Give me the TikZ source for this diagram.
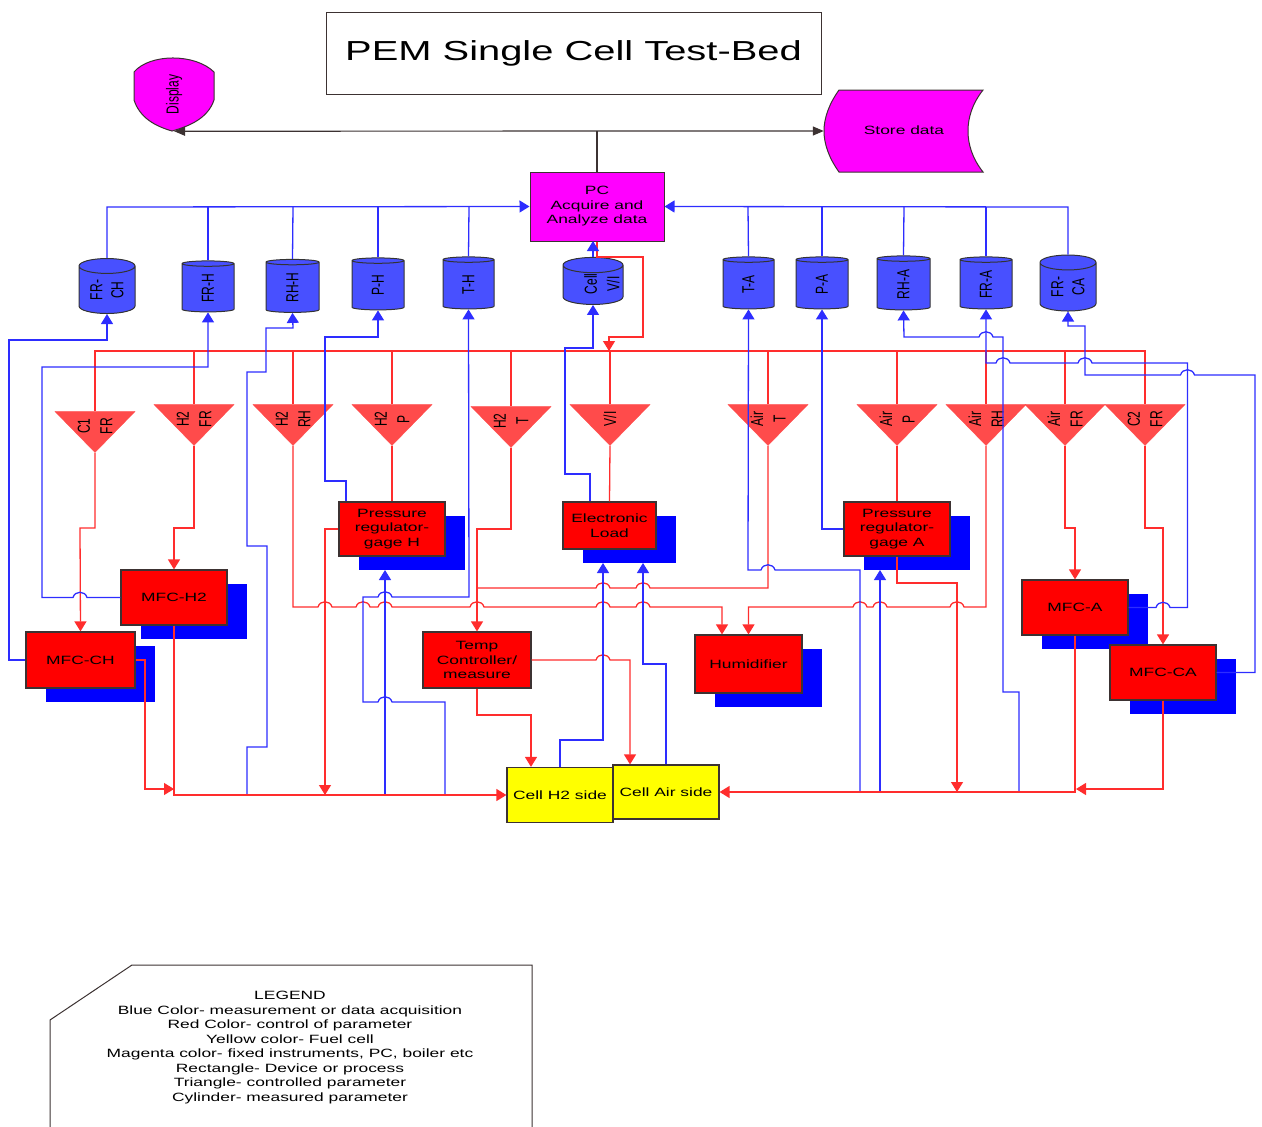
\documentclass[tikz,border=0pt]{standalone}
\usepackage{fontspec}
\setmainfont{Liberation Sans}[FakeStretch=1.45]
\newfontfamily\rotfont{Liberation Sans}[FakeStretch=0.69]
\usepackage{xcolor}
\usetikzlibrary{arrows.meta,shapes.geometric,shadows}
\definecolor{cylblue}{RGB}{72,80,255}
\definecolor{trired}{RGB}{255,75,75}
\definecolor{lineblue}{RGB}{45,45,255}
\definecolor{linered}{RGB}{255,45,45}
\definecolor{edgegray}{RGB}{60,50,50}
\definecolor{fullmag}{RGB}{255,0,255}
\definecolor{fullyel}{RGB}{255,255,0}
\newcommand{\hopr}[2]{-- (#1-7,#2) .. controls (#1-5,#2-7) and (#1+5,#2-7) .. (#1+7,#2)}
\newcommand{\hopl}[2]{-- (#1+7,#2) .. controls (#1+5,#2-7) and (#1-5,#2-7) .. (#1-7,#2)}

\begin{document}
\begin{tikzpicture}[
  x=1pt,y=-1pt,
  font=\fontsize{12}{14.5}\selectfont,
  sz/.style 2 args={minimum width=#1pt,minimum height=#2pt},
  dev/.style={draw=edgegray,fill=red,line width=1.2pt,inner sep=0pt,align=center},
  shad/.style={drop shadow={shadow xshift=20pt,shadow yshift=-14pt,fill=blue,opacity=1}},
  mag/.style={draw=edgegray,fill=fullmag,line width=1pt},
  fuel/.style={draw=edgegray,fill=fullyel,line width=1.2pt,inner sep=0pt,align=center},
  cyl/.style={cylinder,rotate=90,aspect=0.45,draw=black!80,fill=cylblue,line width=1pt,inner sep=0pt,align=center,
    font=\fontsize{17.4}{21}\selectfont\rotfont},
  tri/.style={isosceles triangle,isosceles triangle stretches,shape border rotate=180,rotate=90,anchor=apex,
    minimum width=80pt,minimum height=41pt,inner sep=0pt,draw=trired,fill=trired},
  trilab/.style={rotate=90,inner sep=0pt,align=center,font=\fontsize{17.4}{22.5}\selectfont\rotfont},
  blu/.style={draw=lineblue,line width=1.3pt},
  rd/.style={draw=linered,line width=1.3pt},
  >={Triangle[length=10pt,width=12pt]}]
  \useasboundingbox (0,0) rectangle (1262,1127);
  % title and fixed instruments
  \node[draw=edgegray,line width=1pt,sz={495}{82},font=\fontsize{27.5}{30}\selectfont] (title) at (573.5,53) {PEM Single Cell Test-Bed};
  \draw[mag] (134,72) .. controls (150,53.3) and (195,53.3) .. (214,72) -- (214,100)
    .. controls (208,118) and (190,126) .. (172,131) .. controls (155,126) and (140,118) .. (134,100) -- cycle;
  \node[rotate=90,sz={73}{80},inner sep=0pt,font=\fontsize{17.4}{21}\selectfont\rotfont] (disp) at (174,94.5) {Display};
  \draw[mag] (839,90) -- (983,90) .. controls (972,104) and (968,118) .. (968,131)
    .. controls (968,144) and (972,158) .. (983,172) -- (839,172)
    .. controls (829,158) and (824,144) .. (824,131) .. controls (824,118) and (829,104) .. (839,90) -- cycle;
  \node[sz={160}{82},inner sep=0pt] (store) at (904,130) {Store data};
  \node[mag,sz={134}{69},inner sep=0pt,align=center] (pc) at (597,206.5) {PC\\Acquire and\\Analyze data};
  % measured parameters
  \node[cyl,sz={56}{55}] (frch) at (107,290) {FR-\\CH};
  \node[cyl,sz={52}{51}] (frh) at (208,288) {FR-H};
  \node[cyl,sz={53}{53}] (rhh) at (292.5,287.5) {RH-H};
  \node[cyl,sz={52}{52}] (ph) at (378,285.5) {P-H};
  \node[cyl,sz={51}{52}] (th) at (468.5,284.5) {T-H};
  \node[cyl,sz={60}{47}] (cellvi) at (593,285) {\phantom{Cell}\\\phantom{V/I}};
  \node[trilab] (cellvit) at (602,284) {Cell\\V/I};
  \node[cyl,sz={51}{52}] (ta) at (748.5,284.5) {T-A};
  \node[cyl,sz={52}{52}] (pa) at (822,284.5) {P-A};
  \node[cyl,sz={53}{54}] (rha) at (903.5,284.5) {RH-A};
  \node[cyl,sz={52}{52}] (fra) at (986,284.5) {FR-A};
  \node[cyl,sz={56}{56}] (frca) at (1068,287) {FR-\\CA};
  % controlled parameters
  \node[tri] (c1fr) at (95,453) {};
  \node[tri] (h2fr) at (194,446) {};
  \node[tri] (h2rh) at (293,446) {};
  \node[tri] (h2p) at (392,446) {};
  \node[tri] (h2t) at (511,448) {};
  \node[tri] (vi) at (610,446) {};
  \node[tri] (airt) at (768,446) {};
  \node[tri] (airp) at (897,446) {};
  \node[tri] (airrh) at (986,446) {};
  \node[tri] (airfr) at (1065,446) {};
  \node[tri] (c2fr) at (1145,446) {};
  \node[trilab] (c1frt) at ([yshift=27pt]c1fr.apex) {C1\\FR};
  \node[trilab] (h2frt) at ([yshift=27pt]h2fr.apex) {H2\\FR};
  \node[trilab] (h2rht) at ([yshift=27pt]h2rh.apex) {H2\\RH};
  \node[trilab] (h2pt) at ([yshift=27pt]h2p.apex) {H2\\P};
  \node[trilab] (h2tt) at ([yshift=27pt]h2t.apex) {H2\\T};
  \node[trilab] (vit) at ([yshift=27pt]vi.apex) {V/I};
  \node[trilab] (airtt) at ([yshift=27pt]airt.apex) {Air\\T};
  \node[trilab] (airpt) at ([yshift=27pt]airp.apex) {Air\\P};
  \node[trilab] (airrht) at ([yshift=27pt]airrh.apex) {Air\\RH};
  \node[trilab] (airfrt) at ([yshift=27pt]airfr.apex) {Air\\FR};
  \node[trilab] (c2frt) at ([yshift=27pt]c2fr.apex) {C2\\FR};
  % devices
  \node[dev,shad,sz={109}{56}] (mfcch) at (80.5,660) {MFC-CH};
  \node[dev,shad,sz={106}{55}] (mfch2) at (174,597.5) {MFC-H2};
  \node[dev,shad,sz={106}{54}] (preh) at (392,529) {Pressure\\regulator-\\gage H};
  \node[dev,shad,sz={93}{47}] (eload) at (609.5,525.5) {Electronic\\Load};
  \node[dev,shad,sz={106}{54}] (prea) at (897,529) {Pressure\\regulator-\\gage A};
  \node[dev,sz={108}{56}] (temp) at (477,660) {Temp\\Controller/\\measure};
  \node[dev,shad,sz={107}{58}] (humid) at (748.5,664) {Humidifier};
  \node[dev,shad,sz={106}{55}] (mfca) at (1075,607.5) {MFC-A};
  \node[dev,shad,sz={106}{55}] (mfcca) at (1163,672.5) {MFC-CA};
  \node[fuel,sz={106}{55}] (cellh) at (560,795) {Cell H2 side};
  \node[fuel,sz={106}{54}] (cella) at (666,792) {Cell Air side};
  % free ends of the connectors
  \coordinate (vitap) at (609,351);
  \coordinate (tjoin) at (477,588);
  \coordinate (hjoin) at (174,789);
  \coordinate (phin) at (325,795);
  \coordinate (tprh) at (228,795);
  \coordinate (tph) at (385,795);
  \coordinate (tth) at (445,795);
  \coordinate (prehin) at (385,570);
  \coordinate (elin) at (603,563);
  \coordinate (elout) at (643,563);
  \coordinate (tta) at (860,792);
  \coordinate (tpa) at (880,792);
  \coordinate (prain) at (880,570);
  \coordinate (praout) at (957,792);
  \coordinate (trha) at (1019,792);
  \coordinate (cajoin) at (1076,789);
  % black data lines
  \draw[<->,draw=edgegray,line width=1.2pt,>={Triangle[length=11pt,width=9pt]}] (disp.west) -- (store.west |- 0,131);
  \draw[draw=edgegray,line width=2.4pt] (pc.north) -- (597,131);
  % red control lines, upper part
  \draw[rd] (c1fr.lower side) -- (95,351) -- (1145,351) -- (c2fr.lower side);
  \draw[rd] (h2fr.lower side) -- (194,351);
  \draw[rd] (h2rh.lower side) -- (293,351);
  \draw[rd] (h2p.lower side) -- (392,351);
  \draw[rd] (h2t.lower side) -- (511,351);
  \draw[rd] (vi.lower side) -- (610,351);
  \draw[rd] (airt.lower side) -- (768,351);
  \draw[rd] (airp.lower side) -- (897,351);
  \draw[rd] (airrh.lower side) -- (986,351);
  \draw[rd] (airfr.lower side) -- (1065,351);
  \draw[rd,->] (pc.south) -- (597,257) -- (643,257) -- (643,337) -- (609,337) -- (vitap);
  \draw[rd,->] (c1fr.apex) -- (95,528) -- (80,528) -- (mfcch.north);
  \draw[rd,->] (h2fr.apex) -- (194,528) -- (174,528) -- (mfch2.north);
  \draw[rd] (h2p.apex) -- (preh.north);
  \draw[rd,->] (h2t.apex) -- (511,529) -- (477,529) -- (temp.north);
  \draw[rd] (vi.apex) -- (eload.north);
  \draw[rd] (airt.apex) -- (768,588) \hopl{643}{588} \hopl{603}{588} -- (tjoin);
  \draw[rd] (airp.apex) -- (prea.north);
  \draw[rd,->] (airfr.apex) -- (1065,528) -- (1075,528) -- (mfca.north);
  \draw[rd,->] (c2fr.apex) -- (1145,528) -- (1163,528) -- (mfcca.north);
  \draw[rd,->] (h2rh.apex) -- (293,607) \hopr{325}{607} \hopr{363}{607} \hopr{385}{607} \hopr{477}{607}
    \hopr{603}{607} \hopr{643}{607} -- (722,607) -- ([xshift=-26.5pt]humid.north);
  \draw[rd,->] (airrh.apex) -- (986,607) \hopl{957}{607} \hopl{880}{607} \hopl{860}{607} -- (748.5,607) -- (humid.north);
  \draw[rd,->] (preh.west) -- (325,529) -- (phin);
  \draw[rd,->] (prea.south) -- (897,583) -- (957,583) -- (praout);
  \draw[rd,->] (temp.south) -- (477,715) -- (531,715) -- ([xshift=-29pt]cellh.north);
  \draw[rd,->] (temp.east) \hopr{603}{660} -- (630,660) -- ([xshift=-36pt]cella.north);
  % blue measurement lines
  \draw[blu,->] (frch.top) -- (107,207) -- (pc.west);
  \draw[blu] (frh.top) -- (208,207);
  \draw[blu] (rhh.top) -- (293,207);
  \draw[blu] (ph.top) -- (378,207);
  \draw[blu] (th.top) -- (469,207);
  \draw[blu,->] (frca.top) -- (1068,207) -- (pc.east);
  \draw[blu] (ta.top) -- (748,207);
  \draw[blu] (pa.top) -- (822,207);
  \draw[blu] (rha.top) -- (904,207);
  \draw[blu] (fra.top) -- (986,207);
  \draw[blu,->] (cellvi.top) -- (593,241);
  \draw[blu,->] (mfcch.west) -- (9,660) -- (9,340) -- (107,340) -- (frch.bottom);
  \draw[blu,->] (mfch2.west) \hopl{80}{597.5} -- (42,597.5) -- (42,367) -- (208,367) -- (frh.bottom);
  \draw[blu,->] (tprh) -- (247,795) -- (247,747) -- (267,747) -- (267,546) -- (247,546) -- (247,372)
    -- (266,372) -- (266,328) -- (293,328) -- (rhh.bottom);
  \draw[blu,->] ([xshift=-46pt]preh.north) -- (346,481) -- (325,481) -- (325,337) -- (378,337) -- (ph.bottom);
  \draw[blu,->] (tth) -- (445,702) \hopl{385}{702} -- (363,702) -- (363,597) \hopr{385}{597} -- (469,597) -- (th.bottom);
  \draw[blu,->] (tph) -- (prehin);
  \draw[blu,->] ([xshift=-19.5pt]eload.north) -- (590,474) -- (565,474) -- (565,348) -- (593,348) -- (cellvi.bottom);
  \draw[blu,->] (cellh.north) -- (560,740) -- (603,740) -- (elin);
  \draw[blu,->] (cella.north) -- (666,664) -- (643,664) -- (elout);
  \draw[blu,->] (tta) -- (860,570) \hopl{768}{570} -- (748,570) -- (ta.bottom);
  \draw[blu,->] (prea.west) -- (822,529) -- (pa.bottom);
  \draw[blu,->] (tpa) -- (prain);
  \draw[blu,->] (trha) -- (1019,692) -- (1003,692) -- (1003,337) \hopl{986}{337} -- (904,337) -- (rha.bottom);
  \draw[blu,->] (mfca.east) \hopr{1163}{607.5} -- (1187.5,607.5) -- (1187.5,363) \hopl{1085}{363} \hopl{1003}{363}
    -- (986,363) -- (fra.bottom);
  \draw[blu,->] (mfcca.east) -- (1255,672.5) -- (1255,375) \hopl{1187.5}{375} -- (1085,375) -- (1085,326)
    -- (1068,326) -- (frca.bottom);
  % red feed lines into the cell
  \draw[rd,->] (mfcch.east) -- (145,660) -- (145,789) -- (hjoin);
  \draw[rd,->] (mfch2.south) -- (174,795) -- (cellh.west);
  \draw[rd,->] (mfca.south) -- (1075,792) -- (cella.east);
  \draw[rd,->] (mfcca.south) -- (1163,789) -- (cajoin);
  % legend
  \draw[draw=edgegray,line width=1pt] (50,1127) -- (50,1020) -- (132,965) -- (532,965) -- (532,1127);
  \node[align=center,inner sep=0pt] (legend) at (290,1047.5) {LEGEND\\Blue Color- measurement or data acquisition\\
    Red Color- control of parameter\\Yellow color- Fuel cell\\
    Magenta color- fixed instruments, PC, boiler etc\\Rectangle- Device or process\\
    Triangle- controlled parameter\\Cylinder- measured parameter};
\end{tikzpicture}
\end{document}
